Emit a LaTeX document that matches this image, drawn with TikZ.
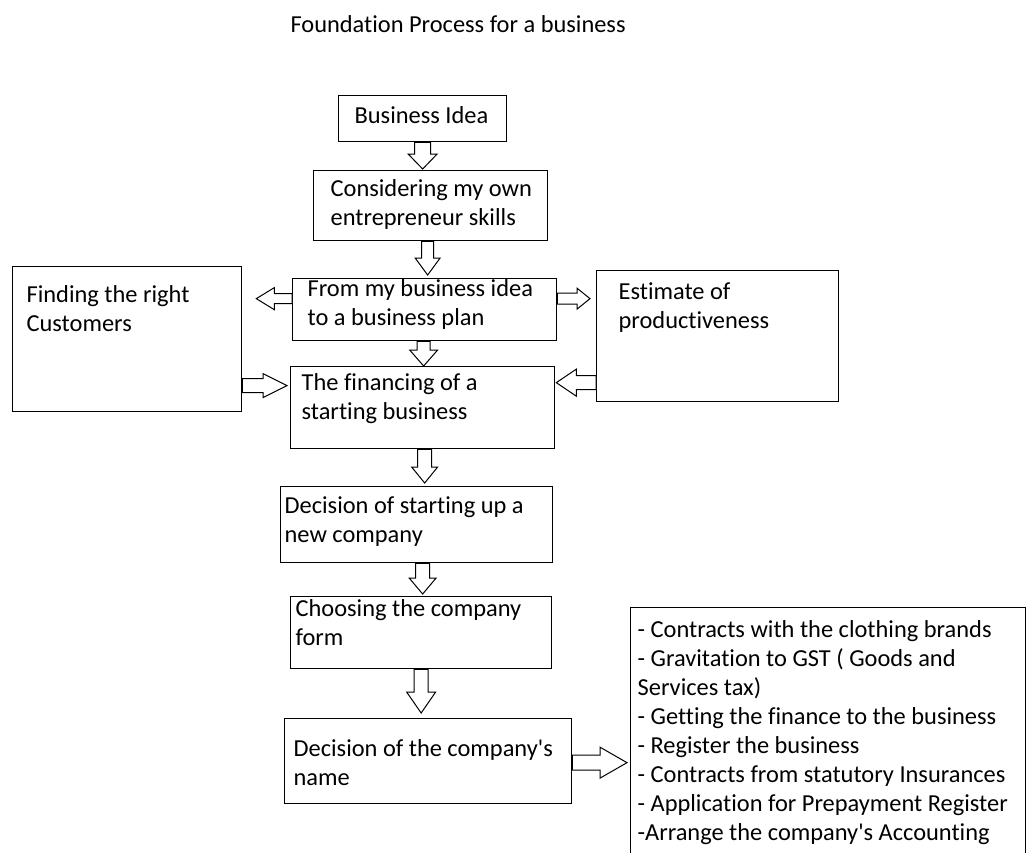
\documentclass[tikz,border=0pt]{standalone}
\usepackage{fontspec}
\setmainfont{Carlito}[Ligatures={TeXOff,NoCommon}]
\usepackage{tikz}
\usetikzlibrary{calc}

\newcommand{\cellbox}[5]{\parbox[c][#2pt][t]{#1pt}{\raggedright\leftskip=#3pt\rule{0pt}{#4pt}#5}}
\newcommand{\fatarrow}[5]{%
  \coordinate (fa-s) at (#1);
  \coordinate (fa-t) at (#2);
  \coordinate (fa-h) at ($(fa-t)!#5pt!(fa-s)$);
  \draw [fatline] ($(fa-s)!#3pt!90:(fa-t)$) -- ($(fa-h)!#3pt!90:(fa-t)$)
    -- ($(fa-h)!#4pt!90:(fa-t)$) -- (fa-t)
    -- ($(fa-h)!#4pt!-90:(fa-t)$) -- ($(fa-h)!#3pt!-90:(fa-t)$)
    -- ($(fa-s)!#3pt!-90:(fa-t)$) -- cycle;
}

\begin{document}
\begin{tikzpicture}[x=1pt,y=-1pt]
\tikzstyle{every node}=[font=\fontsize{24.4}{29}\selectfont]
\tikzset{
  panel/.style={draw, line width=1.3pt, inner sep=0pt, anchor=north west},
  fatline/.style={draw, fill=white, line width=1pt, line join=miter}
}
\useasboundingbox (0,0) rectangle (1026,852);
\clip (0,0) rectangle (1026,852);

\node [anchor=base west] (title) at (287,32) {Foundation Process for a business};

\node [panel] (b1) at (338,95) {\cellbox{168}{46}{16}{28}{Business Idea}};
\node [panel] (b2) at (313,170) {\cellbox{234}{70}{17}{26}{Considering my own\\entrepreneur skills}};
\node [panel] (b3) at (292,278) {\cellbox{264}{62}{15}{18}{From my business idea\\to a business plan}};
\node [panel] (cust) at (12,266) {\cellbox{229}{145}{14}{36}{Finding the right\\Customers}};
\node [panel] (prod) at (596,270) {\cellbox{242}{131}{22}{29}{Estimate of\\productiveness}};
\node [panel] (b4) at (290,366) {\cellbox{264}{82}{11}{24}{The financing of a\\starting business}};
\node [panel] (b5) at (280,486) {\cellbox{272}{76}{4}{27}{Decision of starting up a\\new company}};
\node [panel] (b6) at (290,596) {\cellbox{261}{72}{5}{20}{Choosing the company\\form}};
\node [panel] (b7) at (284,718) {\cellbox{287}{85}{9}{38}{Decision of the company's\\name}};
\node [panel] (steps) at (630,607) {\cellbox{395}{260}{7}{30}{- Contracts with the clothing brands\\- Gravitation to GST ( Goods and\\Services tax)\\- Getting the finance to the business\\- Register the business\\- Contracts from statutory Insurances\\- Application for Prepayment Register\\-Arrange the company's Accounting}};

\fatarrow{b1.south}{$(b1.south |- b2.north)+(0,-1)$}{8}{14.5}{15}
\fatarrow{$(b2.south)+(-3,0)$}{$(b2.south |- b3.north)+(-3,-3)$}{6}{12.5}{17}
\fatarrow{$(b3.south)+(-1,0)$}{$(b3.south |- b4.north)+(-1,0)$}{6.5}{14}{16}
\fatarrow{$(b4.south)+(2,0)$}{$(b4.south |- b5.north)+(2,-3)$}{7}{13}{16}
\fatarrow{$(b5.south)+(6,0)$}{$(b5.south |- b6.north)+(6,-2)$}{7}{13.5}{16}
\fatarrow{b6.south}{$(b6.south |- b7.north)+(0,-5)$}{7}{14.5}{21}
\fatarrow{$(b7.east)+(0,1.5)$}{$(b7.east -| steps.west)+(-3,1.5)$}{7.5}{15.5}{27}
\fatarrow{$(b3.west)+(0,-11)$}{$(b3.west -| cust.east)+(14,-11)$}{5}{11}{18}
\fatarrow{$(b3.east)+(0,-11)$}{$(b3.east -| prod.west)+(-6,-11)$}{5.5}{10.5}{13}
\fatarrow{$(cust.east |- b4.west)+(0,-22)$}{$(b4.west)+(-3,-22)$}{7}{12}{24}
\fatarrow{$(prod.west |- b4.east)+(0,-25)$}{$(b4.east)+(1,-25)$}{7}{13.5}{20}
\end{tikzpicture}
\end{document}
